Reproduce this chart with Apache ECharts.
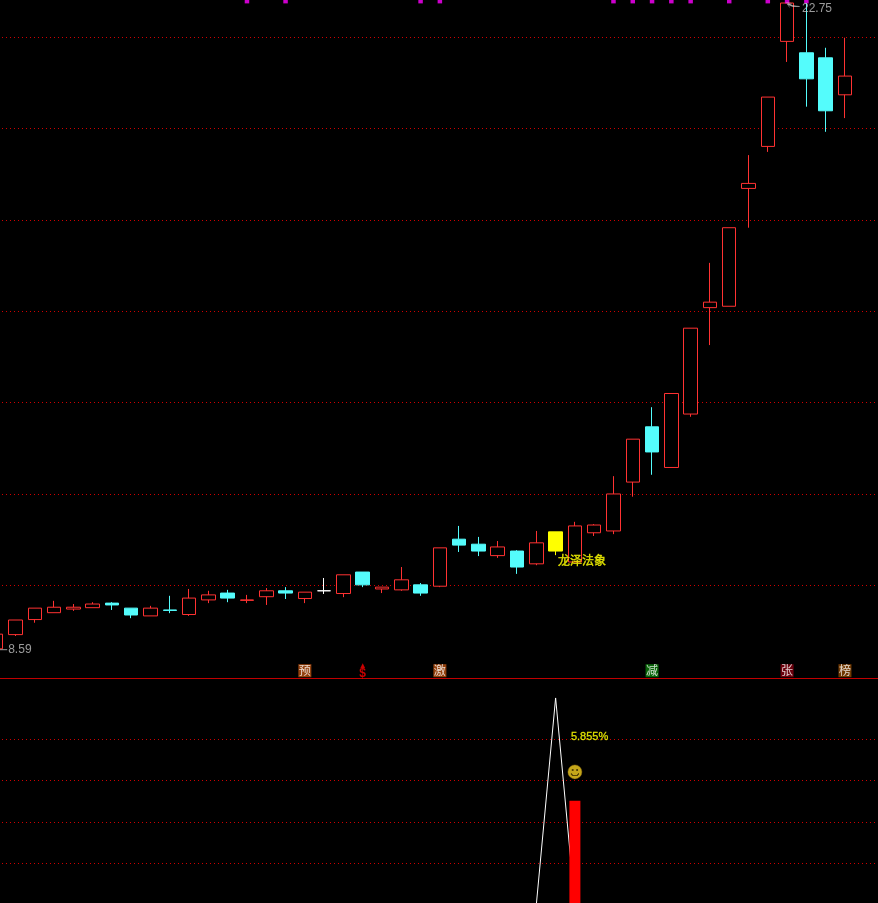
<!DOCTYPE html>
<html>
<head>
<meta charset="utf-8">
<script src="https://cdn.jsdelivr.net/npm/echarts@6/dist/echarts.min.js"></script>
<style>html,body{margin:0;padding:0;background:#000}#c{width:878px;height:903px}</style>
</head>
<body>
<div id="c"></div>
<script>
const opens  = [8.61,8.92,9.25,9.40,9.48,9.51,9.61,9.50,9.33,9.46,9.36,9.68,9.83,9.67,9.75,9.88,9.71,9.88,9.82,10.29,9.92,9.90,10.01,9.98,11.01,10.90,10.65,10.75,10.47,10.75,10.51,11.15,11.19,12.26,13.47,12.58,13.75,16.08,16.11,18.69,19.61,21.91,21.66,21.55,20.74];
const closes = [8.93,9.24,9.50,9.52,9.52,9.59,9.57,9.35,9.50,9.45,9.72,9.79,9.72,9.68,9.88,9.83,9.85,9.88,10.23,10.01,9.96,10.12,9.83,10.82,10.88,10.75,10.84,10.40,10.93,11.17,11.30,11.32,12.00,13.20,12.92,14.20,15.63,16.20,17.83,18.80,20.69,22.75,21.09,20.39,21.15];
const lows   = [8.59,8.89,9.18,9.40,9.44,9.51,9.46,9.28,9.33,9.39,9.33,9.61,9.63,9.61,9.57,9.70,9.61,9.81,9.74,9.96,9.83,9.88,9.77,9.96,10.73,10.64,10.60,10.25,10.44,10.66,10.51,11.08,11.12,11.94,12.42,12.58,13.69,15.26,16.11,17.83,19.49,21.46,20.48,19.93,20.23];
const highs  = [8.93,9.24,9.50,9.66,9.59,9.63,9.63,9.50,9.55,9.77,9.92,9.88,9.90,9.79,9.94,9.96,9.85,10.16,10.23,10.29,9.96,10.40,10.05,10.82,11.30,11.06,10.97,10.77,11.19,11.17,11.39,11.34,12.39,13.20,13.90,14.20,15.63,17.06,17.83,19.42,20.69,22.75,22.75,21.77,21.99];
const categories = opens.map((_, i) => String(i + 1)).concat(['', '']);
const specialCandles = { 17: '#ffffff', 29: '#ffff00' };
const topMarkers = [13,15,22,23,32,33,34,35,36,38,40,41,42];
const topMarkerLevel = 22.78;
const tagLevel = 8.13;
const tags = [
  { i: 16, text: '预', color: '#b8500f' },
  { i: 23, text: '激', color: '#b8500f' },
  { i: 34, text: '减', color: '#0a7d0a' },
  { i: 41, text: '张', color: '#85000f' },
  { i: 44, text: '榜', color: '#8c4600' }
];
const dollarIndex = 19;
const lowPoint = { i: 0, value: 8.59, text: '8.59' };
const highPoint = { i: 41, value: 22.75, text: '22.75' };
const stockName = { i: 29, value: 10.55, text: '龙泽法象' };
const indicatorLine = [[28, 0], [29, 5], [30, 0]];
const indicatorBar = [[30, 2.51]];
const percentNote = { i: 30, value: 4.05, text: '5.855%' };
const smile = { i: 30, value: 3.21 };

const band = 19.29;
const RED = '#ff3232', CYAN = '#54fcfc';
const gridDots = { show: true, showMinLine: false, showMaxLine: false, lineStyle: { color: '#d00000', type: [1, 3], dashOffset: 0.555, width: 1 } };
const hiddenLabels = { axisLabel: { show: false }, axisTick: { show: false } };
const invisiblePoint = { symbol: 'circle', symbolSize: 1, itemStyle: { color: 'rgba(0,0,0,0)' } };

const candleData = opens.map((o, i) => {
  const item = { value: [o, closes[i], lows[i], highs[i]] };
  const c = specialCandles[i];
  if (c) item.itemStyle = { color: c === '#ffffff' ? '#000' : c, color0: c, borderColor: c, borderColor0: c, borderColorDoji: c };
  return item;
});

const chart = echarts.init(document.getElementById('c'), null, { renderer: 'canvas' });
chart.setOption({
  backgroundColor: '#000',
  animation: false,
  grid: [
    { left: -13.445, top: 0, width: band * categories.length, height: 676.64, outerBoundsMode: 'none' },
    { left: -13.445, top: 697.9, width: band * categories.length, height: 206.7, outerBoundsMode: 'none' }
  ],
  xAxis: [
    { type: 'category', gridIndex: 0, data: categories, boundaryGap: true, offset: 2, ...hiddenLabels, splitLine: { show: false },
      axisLine: { show: true, lineStyle: { color: '#c00000', width: 1 } } },
    { type: 'category', gridIndex: 1, data: categories, boundaryGap: true, ...hiddenLabels, splitLine: { show: false }, axisLine: { show: false } }
  ],
  yAxis: [
    { type: 'value', gridIndex: 0, min: 8, max: 22.816, interval: 2, ...hiddenLabels, axisLine: { show: false }, splitLine: gridDots },
    { type: 'value', gridIndex: 1, min: 0, max: 5, interval: 1, ...hiddenLabels, axisLine: { show: false }, splitLine: gridDots }
  ],
  series: [
    { type: 'candlestick', name: 'K', xAxisIndex: 0, yAxisIndex: 0, barWidth: 14, data: candleData, z: 3,
      itemStyle: { color: '#000', color0: CYAN, borderColor: RED, borderColor0: CYAN, borderColorDoji: RED, borderWidth: 1 } },
    { type: 'scatter', name: 'topMarkers', xAxisIndex: 0, yAxisIndex: 0, symbol: 'rect', symbolSize: [4.5, 3.5], z: 4, clip: false,
      itemStyle: { color: '#ff00ff' }, data: topMarkers.map(i => [i, topMarkerLevel]) },
    { type: 'scatter', name: 'tags', xAxisIndex: 0, yAxisIndex: 0, symbol: 'rect', symbolSize: 13, z: 4,
      data: tags.map(t => ({ value: [t.i, tagLevel], itemStyle: { color: t.color }, label: { formatter: t.text } })),
      label: { show: true, position: 'inside', color: '#fff', fontSize: 12, fontFamily: '"Noto Sans CJK SC"' } },
    { type: 'scatter', name: 'dollar', xAxisIndex: 0, yAxisIndex: 0, ...invisiblePoint, z: 4,
      data: [[dollarIndex, tagLevel]],
      label: { show: true, position: 'inside', formatter: '{a|▲}\n{b|$}', rich: {
        a: { color: '#ff0000', fontSize: 8, lineHeight: 5, align: 'center' },
        b: { color: '#ff0000', fontSize: 12, fontWeight: 'bold', lineHeight: 10, align: 'center', fontFamily: '"Liberation Sans"' } } } },
    { type: 'scatter', name: 'low', xAxisIndex: 0, yAxisIndex: 0, symbol: 'rect', symbolSize: [22, 1], z: 5,
      itemStyle: { color: '#c0c0c0' }, data: [[lowPoint.i, lowPoint.value]],
      label: { show: true, position: 'right', distance: 1, formatter: lowPoint.text, color: '#c0c0c0', fontSize: 12, fontFamily: '"Liberation Sans"' } },
    { type: 'scatter', name: 'high', xAxisIndex: 0, yAxisIndex: 0, z: 5, clip: false,
      symbol: 'path://M0 0L3 5M0 0L5 1M2 1L6 3L13 4L6 4L1 2Z', symbolSize: [13, 5], symbolOffset: [6, 2],
      itemStyle: { color: '#c8c8c8', borderColor: '#c8c8c8', borderWidth: 0.5 }, data: [[highPoint.i, highPoint.value]],
      label: { show: true, position: 'right', distance: 2, offset: [0, 4], formatter: highPoint.text, color: '#c0c0c0', fontSize: 12, fontFamily: '"Liberation Sans"' } },
    { type: 'scatter', name: 'name', xAxisIndex: 0, yAxisIndex: 0, ...invisiblePoint, z: 6, data: [[stockName.i, stockName.value]],
      label: { show: true, position: 'inside', align: 'left', offset: [2.5, 0], formatter: stockName.text, color: '#ffff00', textBorderColor: '#ffff00', textBorderWidth: 0.4, fontSize: 12, fontFamily: '"Noto Sans CJK SC"' } },

    { type: 'line', name: 'indicator', xAxisIndex: 1, yAxisIndex: 1, data: indicatorLine, symbol: 'none', z: 3, clip: true,
      lineStyle: { color: '#ffffff', width: 1 } },
    { type: 'bar', name: 'bar', xAxisIndex: 1, yAxisIndex: 1, data: indicatorBar, barWidth: 11, z: 4, itemStyle: { color: '#ff0000' } },
    { type: 'scatter', name: 'pct', xAxisIndex: 1, yAxisIndex: 1, ...invisiblePoint, z: 5, data: [[percentNote.i, percentNote.value]],
      label: { show: true, position: 'inside', align: 'left', offset: [-4, 0], formatter: percentNote.text, color: '#ffff00', textBorderColor: '#ffff00', textBorderWidth: 0.3, fontSize: 11, fontFamily: '"Liberation Sans"' } },
    { type: 'scatter', name: 'smileFace', xAxisIndex: 1, yAxisIndex: 1, symbol: 'circle', symbolSize: 14, z: 5,
      itemStyle: { color: '#f5d020', borderColor: '#a07a10', borderWidth: 0.5 }, data: [[smile.i, smile.value]] },
    { type: 'scatter', name: 'smileFeatures', xAxisIndex: 1, yAxisIndex: 1, z: 6, symbolSize: [8, 7], symbolOffset: [0, 0.5],
      symbol: 'path://M4 5h2v2h-2zM9 5h2v2h-2zM3 9h1v1h1v1h5v-1h1v-1h1v2h-1v1h-7v-1h-1z',
      itemStyle: { color: '#3a2a00' }, data: [[smile.i, smile.value]] }
  ]
});
</script>
</body>
</html>
